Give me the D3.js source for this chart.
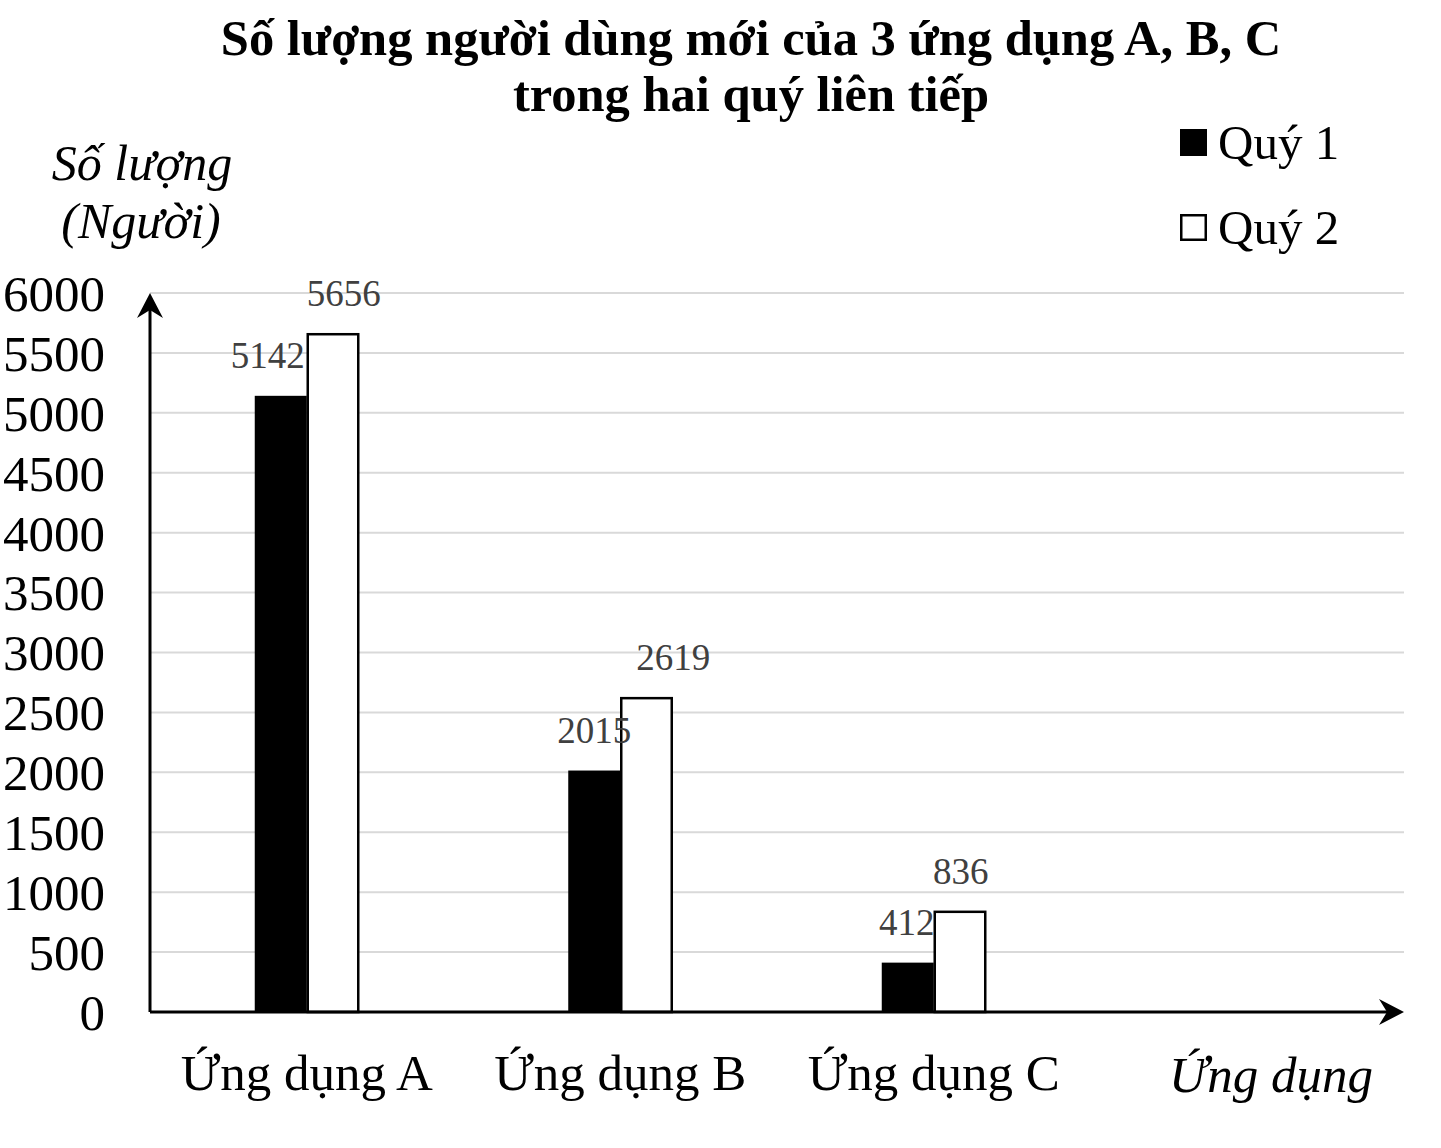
<!DOCTYPE html>
<html>
<head>
<meta charset="utf-8">
<script src="https://cdn.jsdelivr.net/npm/d3@7"></script>
<style>
  body { margin: 0; background: #fff; }
  text { font-family: "Liberation Serif", "Times New Roman", serif; }
</style>
</head>
<body>
<div id="chart"></div>
<script>
const categories = ["Ứng dụng A", "Ứng dụng B", "Ứng dụng C"];
const seriesNames = ["Quý 1", "Quý 2"];
const quy1 = [5142, 2015, 412];
const quy2 = [5656, 2619, 836];
const yTicks = [0, 500, 1000, 1500, 2000, 2500, 3000, 3500, 4000, 4500, 5000, 5500, 6000];

const width = 1441, height = 1148;
const plotLeft = 150, plotRight = 1404, plotTop = 293, plotBottom = 1012;

// small horizontal nudges of the value labels (as placed in the original)
const shift1 = [-13, 0, -1];
const shift2 = [11, 27, 1];

const svg = d3.select("#chart")
    .append("svg")
    .attr("width", width)
    .attr("height", height);

// 4 slots: the last one is empty, like in the original picture
const x = d3.scaleBand()
    .domain(categories.concat(["_"]))
    .range([plotLeft, plotRight]);

const y = d3.scaleLinear()
    .domain([0, 6000])
    .range([plotBottom, plotTop]);

const barW = 52;

// gridlines
svg.selectAll(".grid")
    .data(yTicks.filter(d => d > 0))
    .enter()
    .append("line")
    .attr("x1", plotLeft)
    .attr("x2", plotRight)
    .attr("y1", d => y(d))
    .attr("y2", d => y(d))
    .attr("stroke", "#d9d9d9")
    .attr("stroke-width", 2);

// y tick labels
svg.selectAll(".ytick")
    .data(yTicks)
    .enter()
    .append("text")
    .attr("x", 105)
    .attr("y", d => y(d))
    .attr("dy", "0.35em")
    .attr("text-anchor", "end")
    .attr("font-size", 51)
    .text(d => d);

const data = categories.map((c, i) => ({ cat: c, i: i, v1: quy1[i], v2: quy2[i] }));

// bars
const g = svg.selectAll(".grp")
    .data(data)
    .enter()
    .append("g");

g.append("rect")
    .attr("x", d => x(d.cat) + x.bandwidth() / 2 - barW)
    .attr("y", d => y(d.v1))
    .attr("width", barW)
    .attr("height", d => plotBottom - y(d.v1))
    .attr("fill", "#000");

g.append("rect")
    .attr("x", d => x(d.cat) + x.bandwidth() / 2 + 1)
    .attr("y", d => y(d.v2))
    .attr("width", barW - 1.5)
    .attr("height", d => plotBottom - y(d.v2))
    .attr("fill", "#fff")
    .attr("stroke", "#000")
    .attr("stroke-width", 2.5);

// value labels
g.append("text")
    .attr("x", d => x(d.cat) + x.bandwidth() / 2 - barW / 2 + shift1[d.i])
    .attr("y", d => y(d.v1) - 28)
    .attr("text-anchor", "middle")
    .attr("font-size", 37)
    .attr("fill", "#404040")
    .text(d => d.v1);

g.append("text")
    .attr("x", d => x(d.cat) + x.bandwidth() / 2 + barW / 2 + shift2[d.i])
    .attr("y", d => y(d.v2) - 28)
    .attr("text-anchor", "middle")
    .attr("font-size", 37)
    .attr("fill", "#404040")
    .text(d => d.v2);

// axes with arrows
svg.append("line")
    .attr("x1", plotLeft).attr("x2", plotLeft)
    .attr("y1", plotBottom).attr("y2", plotTop + 10)
    .attr("stroke", "#000").attr("stroke-width", 3);
svg.append("path")
    .attr("d", `M${plotLeft},${plotTop} L${plotLeft - 13},${plotTop + 25} L${plotLeft},${plotTop + 17} L${plotLeft + 13},${plotTop + 25} Z`)
    .attr("fill", "#000");

svg.append("line")
    .attr("x1", plotLeft).attr("x2", plotRight - 10)
    .attr("y1", plotBottom).attr("y2", plotBottom)
    .attr("stroke", "#000").attr("stroke-width", 3);
svg.append("path")
    .attr("d", `M${plotRight},${plotBottom} L${plotRight - 25},${plotBottom - 13} L${plotRight - 17},${plotBottom} L${plotRight - 25},${plotBottom + 13} Z`)
    .attr("fill", "#000");

// category labels
svg.selectAll(".cat")
    .data(categories)
    .enter()
    .append("text")
    .attr("x", d => x(d) + x.bandwidth() / 2)
    .attr("y", 1090)
    .attr("text-anchor", "middle")
    .attr("font-size", 51)
    .text(d => d);

svg.append("text")
    .attr("x", 1271).attr("y", 1092)
    .attr("text-anchor", "middle")
    .attr("font-size", 51)
    .attr("font-style", "italic")
    .text("Ứng dụng");

// y axis title
svg.append("text")
    .attr("x", 142).attr("y", 180)
    .attr("text-anchor", "middle")
    .attr("font-size", 50)
    .attr("font-style", "italic")
    .text("Số lượng");
svg.append("text")
    .attr("x", 141).attr("y", 238)
    .attr("text-anchor", "middle")
    .attr("font-size", 50)
    .attr("font-style", "italic")
    .text("(Người)");

// title
svg.append("text")
    .attr("x", 751).attr("y", 55)
    .attr("text-anchor", "middle")
    .attr("font-size", 50.5)
    .attr("font-weight", "bold")
    .text("Số lượng người dùng mới của 3 ứng dụng A, B, C");
svg.append("text")
    .attr("x", 751).attr("y", 111)
    .attr("text-anchor", "middle")
    .attr("font-size", 50.5)
    .attr("font-weight", "bold")
    .text("trong hai quý liên tiếp");

// legend
const legend = svg.selectAll(".legend")
    .data(seriesNames)
    .enter()
    .append("g")
    .attr("transform", (d, i) => `translate(1180,${129 + i * 85})`);

legend.append("rect")
    .attr("x", (d, i) => i === 0 ? 0 : 1.25)
    .attr("y", (d, i) => i === 0 ? 0 : 1.25)
    .attr("width", (d, i) => i === 0 ? 27 : 24.5)
    .attr("height", (d, i) => i === 0 ? 27 : 24.5)
    .attr("fill", (d, i) => i === 0 ? "#000" : "#fff")
    .attr("stroke", "#000")
    .attr("stroke-width", (d, i) => i === 0 ? 0 : 2.5);

legend.append("text")
    .attr("x", 38)
    .attr("y", 30)
    .attr("font-size", 49)
    .text(d => d);
</script>
</body>
</html>
